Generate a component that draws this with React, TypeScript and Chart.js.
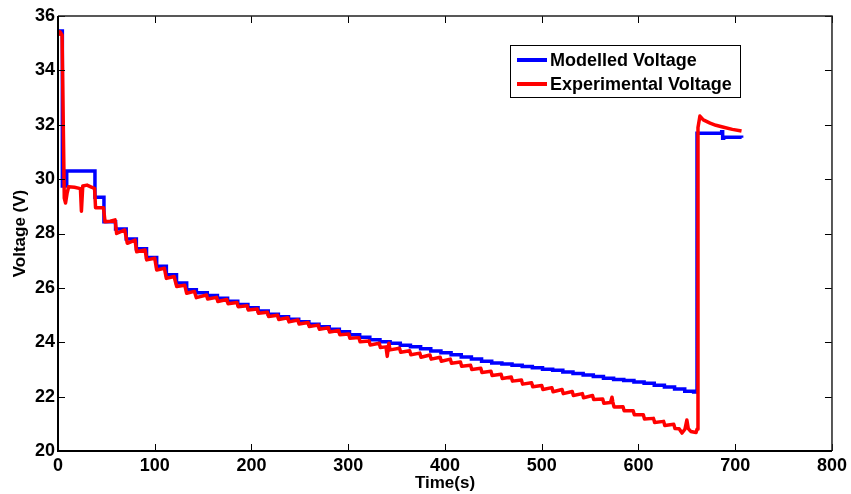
import React, { useEffect, useRef } from "react";
import { Chart, registerables } from "chart.js";

Chart.register(...registerables);

const xTickValues = [0, 100, 200, 300, 400, 500, 600, 700, 800];
const yTickValues = [20, 22, 24, 26, 28, 30, 32, 34, 36];
const seriesLabels = ["Modelled Voltage", "Experimental Voltage"];

const modelledTime = [
  0, 4.5, 9, 38.2, 47.5, 59.5, 70.5, 81, 91.5, 102, 112, 122.5, 133, 143,
  154.3, 164.8, 175.3, 185.8, 196.3, 206.8, 217.3, 227.8, 238.3, 248.8, 259.3,
  269.8, 280.3, 290.8, 301.3, 311.8, 322.3, 332.8, 343.3, 353.8, 364.3, 374.8,
  385.3, 395.8, 406.3, 416.8, 427.3, 437.8, 448.3, 458.8, 469.3, 479.8, 490.3,
  500.8, 511.3, 521.8, 532.3, 542.8, 553.3, 563.8, 574.3, 584.8, 595.3, 605.8,
  616.3, 626.8, 637.3, 647.8, 657, 660.5, 686, 687, 688, 706.6,
];
const modelledVoltage = [
  35.45, 29.75, 30.3, 29.33, 28.43, 28.17, 27.8, 27.44, 27.12, 26.8, 26.48,
  26.18, 25.93, 25.82, 25.72, 25.62, 25.51, 25.39, 25.27, 25.15, 25.03, 24.94,
  24.85, 24.75, 24.66, 24.57, 24.48, 24.39, 24.28, 24.18, 24.09, 24.02, 23.96,
  23.89, 23.83, 23.76, 23.68, 23.61, 23.54, 23.46, 23.38, 23.3, 23.24, 23.2,
  23.15, 23.11, 23.06, 23.01, 22.97, 22.91, 22.85, 22.8, 22.74, 22.68, 22.63,
  22.59, 22.54, 22.49, 22.42, 22.35, 22.28, 22.2, 22.17, 31.69, 31.74, 31.5,
  31.54, 31.52,
];

const experimentalTime = [
  0, 2, 4.2, 6.5, 7.8, 9.5, 11, 17, 23.2, 24.2, 25.6, 30, 35, 37.8, 38.8, 47,
  48.6, 54, 59, 60.6, 69, 71.6, 79.6, 81.3, 90, 91.7, 100, 102, 110, 112, 120,
  122.7, 131, 133, 141, 143, 153.5, 154.7, 164, 165.2, 174.5, 175.7, 185, 186.2,
  195.5, 196.7, 206, 207.2, 216.5, 217.7, 227, 228.2, 237.5, 238.7, 248, 249.2,
  258.5, 259.7, 269, 270.2, 279.5, 280.7, 290, 291.2, 300.5, 301.7, 311, 312.2,
  321.5, 322.7, 332, 333.2, 339, 340.3, 342, 343.2, 353, 354.2, 363.5, 364.7,
  374, 375.2, 384.5, 385.7, 395, 396.2, 405.5, 406.7, 416, 417.2, 426.5, 427.7,
  437, 438.2, 447.5, 448.7, 458, 459.2, 468.5, 469.7, 479, 480.2, 489.5, 490.7,
  500, 501.2, 510.5, 511.7, 521, 522.2, 531.5, 532.7, 542, 543.2, 552.5, 553.7,
  563, 564.2, 571, 572.6, 573.5, 574.7, 584, 585.2, 594.5, 595.7, 605, 606.2,
  615.5, 616.7, 626, 627.2, 636.5, 637.7, 642, 645, 648, 650, 651.5, 654, 659.5,
  660.5, 661.5, 663.5, 667, 674, 680, 687, 697, 706.5,
];
const experimentalVoltage = [
  35.3, 35.42, 35.3, 29.3, 29.12, 29.5, 29.72, 29.7, 29.65, 28.82, 29.75, 29.78,
  29.7, 29.65, 28.95, 28.95, 28.43, 28.45, 28.5, 28.0, 28.13, 27.64, 27.76,
  27.33, 27.39, 27.03, 27.09, 26.66, 26.72, 26.35, 26.42, 26.05, 26.1, 25.8,
  25.87, 25.64, 25.74, 25.59, 25.65, 25.5, 25.57, 25.42, 25.46, 25.31, 25.34,
  25.19, 25.22, 25.07, 25.1, 24.95, 24.99, 24.84, 24.9, 24.75, 24.82, 24.67,
  24.73, 24.58, 24.63, 24.48, 24.53, 24.38, 24.43, 24.28, 24.3, 24.15, 24.17,
  24.02, 24.05, 23.9, 23.96, 23.81, 23.83, 23.48, 23.96, 23.72, 23.78, 23.63,
  23.69, 23.54, 23.6, 23.45, 23.53, 23.38, 23.45, 23.3, 23.38, 23.23, 23.27,
  23.12, 23.15, 23.0, 23.04, 22.89, 22.93, 22.78, 22.82, 22.67, 22.72, 22.57,
  22.61, 22.46, 22.51, 22.36, 22.41, 22.26, 22.33, 22.18, 22.26, 22.11, 22.19,
  22.04, 22.11, 21.96, 22.04, 21.89, 21.91, 21.76, 21.78, 21.98, 21.8, 21.62,
  21.63, 21.48, 21.48, 21.33, 21.33, 21.18, 21.2, 21.05, 21.09, 20.94, 20.98,
  20.83, 20.82, 20.66, 20.8, 21.14, 20.82, 20.72, 20.68, 20.8, 31.9, 32.32,
  32.18, 32.06, 31.98, 31.92, 31.83, 31.77,
];

const FONT = "'Liberation Sans', Arial, sans-serif";

const framePlugin = {
  id: "frame",
  afterDraw(chart: any) {
    const { ctx, chartArea } = chart;
    const { left, right, top, bottom } = chartArea;
    const xs = chart.scales.x;
    const ys = chart.scales.y;
    const tl = 7;
    ctx.save();
    ctx.strokeStyle = "#000";
    ctx.lineWidth = 1;
    xTickValues.forEach((v) => {
      const px = Math.round(xs.getPixelForValue(v)) + 0.5;
      ctx.beginPath();
      ctx.moveTo(px, bottom);
      ctx.lineTo(px, bottom - tl);
      ctx.moveTo(px, top);
      ctx.lineTo(px, top + tl);
      ctx.stroke();
    });
    yTickValues.forEach((v) => {
      const py = Math.round(ys.getPixelForValue(v)) + 0.5;
      ctx.beginPath();
      ctx.moveTo(left, py);
      ctx.lineTo(left + tl, py);
      ctx.moveTo(right, py);
      ctx.lineTo(right - tl, py);
      ctx.stroke();
    });
    ctx.lineWidth = 1.5;
    ctx.strokeStyle = "#222";
    ctx.beginPath();
    ctx.moveTo(left, top);
    ctx.lineTo(right, top);
    ctx.lineTo(right, bottom);
    ctx.stroke();
    ctx.lineWidth = 2;
    ctx.strokeStyle = "#000";
    ctx.beginPath();
    ctx.moveTo(left, top);
    ctx.lineTo(left, bottom);
    ctx.lineTo(right, bottom);
    ctx.stroke();

    // legend
    const bx = 510.5, by = 45.5, bw = 230, bh = 52;
    ctx.fillStyle = "#fff";
    ctx.fillRect(bx, by, bw, bh);
    ctx.lineWidth = 1;
    ctx.strokeStyle = "#000";
    ctx.strokeRect(bx, by, bw, bh);
    const rows = [60, 84];
    chart.data.datasets.forEach((ds: any, i: number) => {
      const y = rows[i];
      ctx.strokeStyle = ds.borderColor;
      ctx.lineWidth = 4;
      ctx.beginPath();
      ctx.moveTo(517, y);
      ctx.lineTo(547, y);
      ctx.stroke();
      ctx.fillStyle = "#000";
      ctx.font = `bold 18px ${FONT}`;
      ctx.textBaseline = "middle";
      ctx.textAlign = "left";
      ctx.fillText(ds.label, 550, y + 1);
    });
    ctx.restore();
  },
};

export default function App() {
  const ref = useRef<HTMLCanvasElement>(null);
  useEffect(() => {
    if (!ref.current) return;
    const chart = new Chart(ref.current, {
      type: "line",
      data: {
        datasets: [
          {
            label: seriesLabels[0],
            data: modelledTime.map((t, i) => ({ x: t, y: modelledVoltage[i] })),
            borderColor: "#0000ff",
            backgroundColor: "#0000ff",
            borderWidth: 3.5,
            pointRadius: 0,
            stepped: true,
            order: 1,
          },
          {
            label: seriesLabels[1],
            data: experimentalTime.map((t, i) => ({ x: t, y: experimentalVoltage[i] })),
            borderColor: "#ff0000",
            backgroundColor: "#ff0000",
            borderWidth: 3.5,
            pointRadius: 0,
            tension: 0,
            borderJoinStyle: "round",
            order: 0,
          },
        ],
      },
      options: {
        animation: false,
        responsive: false,
        devicePixelRatio: 1,
        layout: { padding: { left: 0, right: 19, top: 16, bottom: 0 } },
        plugins: { legend: { display: false }, tooltip: { enabled: false } },
        scales: {
          x: {
            type: "linear",
            min: 0,
            max: 800,
            afterBuildTicks: (axis: any) => {
              axis.ticks = xTickValues.map((v) => ({ value: v }));
            },
            afterFit: (axis: any) => {
              axis.height = 43;
            },
            grid: { display: false, drawTicks: false },
            border: { display: false },
            ticks: {
              color: "#000",
              padding: 4,
              maxRotation: 0,
              font: { family: FONT, size: 18, weight: "bold" },
            },
            title: {
              display: true,
              text: "Time(s)",
              color: "#000",
              font: { family: FONT, size: 17, weight: "bold" },
              padding: { top: 0, bottom: 0 },
            },
          },
          y: {
            type: "linear",
            min: 20,
            max: 36,
            afterBuildTicks: (axis: any) => {
              axis.ticks = yTickValues.map((v) => ({ value: v }));
            },
            afterFit: (axis: any) => {
              axis.width = 58;
            },
            grid: { display: false, drawTicks: false },
            border: { display: false },
            ticks: {
              color: "#000",
              padding: 3,
              font: { family: FONT, size: 18, weight: "bold" },
            },
            title: {
              display: true,
              text: "Voltage (V)",
              color: "#000",
              font: { family: FONT, size: 17, weight: "bold" },
              padding: { top: 10, bottom: 0 },
            },
          },
        },
      },
      plugins: [framePlugin],
    } as any);
    return () => chart.destroy();
  }, []);
  return (
    <div style={{ position: "fixed", left: 0, top: 0, width: 851, height: 494, background: "#fff" }}>
      <canvas ref={ref} width={851} height={494} style={{ width: 851, height: 494 }} />
    </div>
  );
}
